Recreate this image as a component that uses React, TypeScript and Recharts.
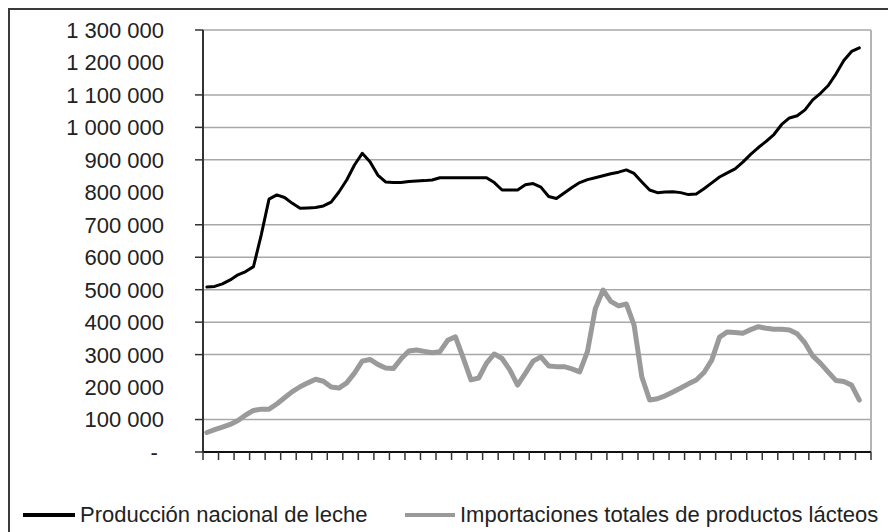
import React from 'react';
import { LineChart, Line, XAxis, YAxis, Legend, ReferenceLine } from 'recharts';

// Producción nacional de leche (t) (two readings per axis interval)
const produccion = [
  508000, 510000, 518000, 530000, 546000, 556000, 571000, 669000, 779000, 792000,
  784000, 766000, 751000, 752000, 753000, 758000, 770000, 801000, 838000, 884000,
  920000, 894000, 853000, 832000, 830000, 830000, 833000, 835000, 836000, 838000,
  845000, 845000, 845000, 845000, 845000, 845000, 845000, 830000, 807000, 807000,
  807000, 823000, 827000, 816000, 787000, 781000, 798000, 815000, 830000, 839000,
  845000, 851000, 857000, 862000, 869000, 858000, 832000, 807000, 799000, 801000,
  802000, 799000, 793000, 795000, 811000, 829000, 847000, 860000, 872000, 893000,
  917000, 938000, 957000, 978000, 1009000, 1029000, 1036000, 1054000, 1085000, 1105000,
  1129000, 1165000, 1206000, 1234000, 1245000,
];

// Importaciones totales de productos lácteos (t)
const importaciones = [
  60000, 69000, 77000, 85000, 97000, 114000, 128000, 132000, 132000, 148000,
  167000, 186000, 201000, 213000, 224000, 218000, 200000, 197000, 213000, 243000,
  280000, 285000, 270000, 259000, 257000, 287000, 311000, 314000, 310000, 306000,
  309000, 344000, 355000, 290000, 222000, 228000, 274000, 302000, 288000, 253000,
  206000, 242000, 280000, 293000, 265000, 263000, 263000, 256000, 247000, 310000,
  441000, 499000, 464000, 450000, 456000, 391000, 231000, 160000, 164000, 173000,
  185000, 197000, 210000, 222000, 245000, 283000, 354000, 370000, 368000, 366000,
  377000, 386000, 381000, 378000, 378000, 376000, 364000, 336000, 296000, 273000,
  246000, 220000, 217000, 206000, 160000,
];

const seriesNames = ['Producción nacional de leche', 'Importaciones totales de productos lácteos'];
const seriesColors = ['#000000', '#9a9a9a'];

const xTicks = Array.from({ length: 44 }, (_, i) => i);
const yTicks = [0, 100000, 200000, 300000, 400000, 500000, 600000, 700000, 800000, 900000, 1000000, 1100000, 1200000, 1300000];
const gridValues = [100000, 300000, 400000, 500000, 600000, 700000, 900000, 1000000, 1100000, 1300000];

const data = produccion.map((p, i) => ({ x: (i + 0.5) / 2, produccion: p, importaciones: importaciones[i] }));

const FONT = '"Liberation Sans", Arial, sans-serif';
const TICK_SIZE = 8;
const TICK_MARGIN = 31;

const fmt = (v: number) => (v === 0 ? '-\u00a0' : String(v).replace(/\B(?=(\d{3})+(?!\d))/g, ' '));

const YTick = (props: any) => {
  const { x, y, payload } = props;
  const v = payload.value;
  const showLine = v === 0 || gridValues.includes(v);
  return (
    <g>
      {showLine && (
        <line x1={x + TICK_MARGIN} x2={x + TICK_MARGIN + TICK_SIZE} y1={y} y2={y} stroke="#333" strokeWidth={1.5} />
      )}
      <text x={x} y={y} dy="0.36em" textAnchor="end" fontFamily={FONT} fontSize={22} fill="#222">
        {fmt(v)}
      </text>
    </g>
  );
};

const renderLegend = () => (
  <div style={{ position: 'relative', width: 888, height: 30, fontFamily: FONT, fontSize: 22, color: '#222' }}>
    <div style={{ position: 'absolute', left: 15, top: 13, width: 52, height: 4, background: seriesColors[0] }} />
    <span style={{ position: 'absolute', left: 72, top: 0, lineHeight: '30px', whiteSpace: 'nowrap' }}>{seriesNames[0]}</span>
    <div style={{ position: 'absolute', left: 397, top: 13, width: 50, height: 4, background: seriesColors[1] }} />
    <span style={{ position: 'absolute', left: 452, top: 0, lineHeight: '30px', whiteSpace: 'nowrap' }}>{seriesNames[1]}</span>
  </div>
);

export default function App() {
  return (
    <div style={{ position: 'relative', width: 888, height: 524 }}>
      <style>{'html,body{overflow:hidden}'}</style>
      <LineChart width={888} height={524} data={data} margin={{ top: 22, right: 25, left: 0, bottom: 50 }}>
        <XAxis
          type="number"
          dataKey="x"
          domain={[0, 43]}
          ticks={xTicks}
          interval={0}
          tickFormatter={() => ''}
          tickSize={TICK_SIZE}
          height={30}
          axisLine={{ stroke: '#111', strokeWidth: 2 }}
          tickLine={{ stroke: '#333', strokeWidth: 1.5 }}
        />
        <YAxis
          type="number"
          domain={[0, 1300000]}
          ticks={yTicks}
          interval={0}
          width={195}
          tickSize={TICK_SIZE}
          tickMargin={TICK_MARGIN}
          tickLine={false}
          axisLine={{ stroke: '#333', strokeWidth: 2 }}
          tick={<YTick />}
        />
        {gridValues.map((v) => (
          <ReferenceLine key={v} y={v} stroke="#a8a8a8" strokeWidth={1.5} />
        ))}
        <ReferenceLine x={43} stroke="#b4b4b4" strokeWidth={2} />
        <Line
          type="linear"
          dataKey="importaciones"
          name={seriesNames[1]}
          stroke={seriesColors[1]}
          strokeWidth={5}
          dot={false}
          strokeLinejoin="round"
          strokeLinecap="round"
          isAnimationActive={false}
        />
        <Line
          type="linear"
          dataKey="produccion"
          name={seriesNames[0]}
          stroke={seriesColors[0]}
          strokeWidth={3}
          dot={false}
          strokeLinejoin="round"
          strokeLinecap="round"
          isAnimationActive={false}
        />
        <Legend
          verticalAlign="middle"
          align="center"
          layout="horizontal"
          wrapperStyle={{ left: 0, top: 492, width: 888, height: 30 }}
          content={renderLegend}
        />
      </LineChart>
      <div
        style={{
          position: 'absolute',
          left: 0,
          top: 0,
          width: 888,
          height: 524,
          borderTop: '2px solid #3a3a3a',
          borderLeft: '2px solid #3a3a3a',
          boxSizing: 'border-box',
          pointerEvents: 'none',
        }}
      />
    </div>
  );
}
